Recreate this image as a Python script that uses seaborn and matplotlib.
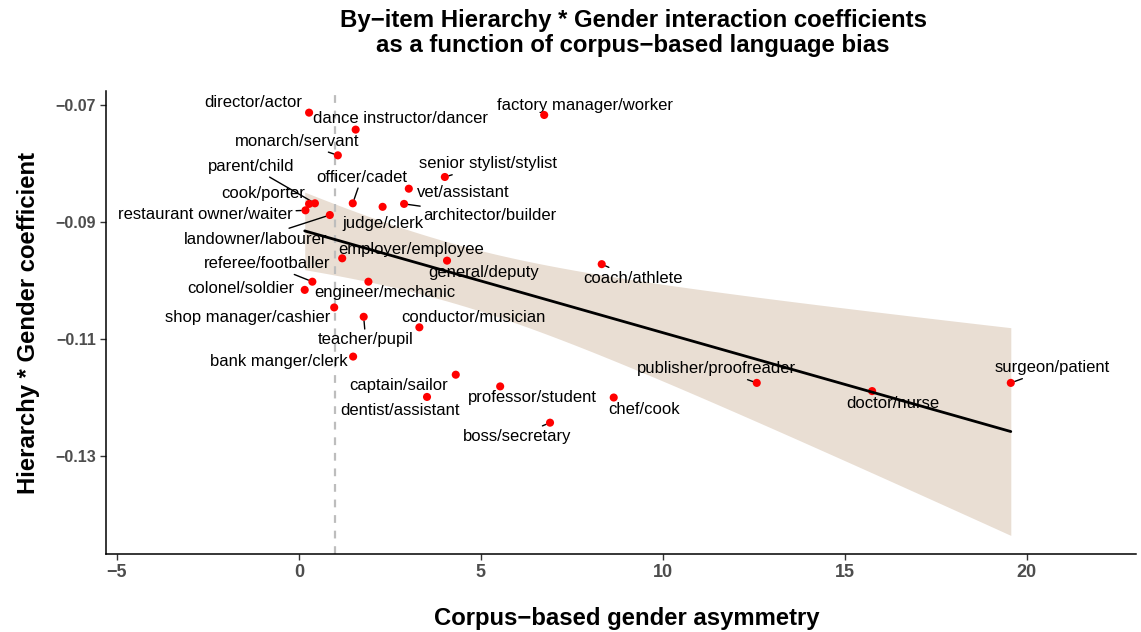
import numpy as np
import pandas as pd
import matplotlib
matplotlib.use("Agg")
import matplotlib.pyplot as plt
import seaborn as sns

# ---------------- data ----------------
pairs = [
    "director/actor", "dance instructor/dancer", "monarch/servant", "parent/child",
    "cook/porter", "restaurant owner/waiter", "landowner/labourer", "officer/cadet",
    "judge/clerk", "vet/assistant", "architector/builder", "senior stylist/stylist",
    "factory manager/worker", "employer/employee", "general/deputy", "referee/footballer",
    "engineer/mechanic", "colonel/soldier", "shop manager/cashier", "teacher/pupil",
    "conductor/musician", "bank manger/clerk", "captain/sailor", "professor/student",
    "dentist/assistant", "boss/secretary", "chef/cook", "publisher/proofreader",
    "doctor/nurse", "surgeon/patient", "coach/athlete",
]
asymmetry = [
    0.28, 1.56, 1.07, 0.44,
    0.28, 0.18, 0.85, 1.48,
    2.30, 3.02, 2.89, 4.01,
    6.74, 1.19, 4.07, 0.37,
    1.91, 0.16, 0.97, 1.78,
    3.31, 1.49, 4.31, 5.53,
    3.52, 6.90, 8.65, 12.58,
    15.75, 19.56, 8.32,
]
coefficient = [
    -0.0713, -0.0742, -0.0786, -0.0868,
    -0.0869, -0.0880, -0.0888, -0.0868,
    -0.0874, -0.0843, -0.0869, -0.0823,
    -0.0717, -0.0962, -0.0966, -0.1002,
    -0.1002, -0.1016, -0.1046, -0.1062,
    -0.1080, -0.1130, -0.1161, -0.1181,
    -0.1199, -0.1243, -0.1200, -0.1175,
    -0.1189, -0.1175, -0.0972,
]
x_ticks = [-5, 0, 5, 10, 15, 20]
x_tick_labels = ["\u22125", "0", "5", "10", "15", "20"]
y_ticks = [-0.07, -0.09, -0.11, -0.13]
y_tick_labels = ["\u22120.07", "\u22120.09", "\u22120.11", "\u22120.13"]

# label placement (pixel offsets from the point: dx right, dy down) and connector flag
label_offsets = [
    (-56, -10, 0), (45, -11, 0), (-41, -14, 1), (-64, -37, 1),
    (-46, -10, 0), (-100, 4, 1), (-74, 24, 1), (9, -26, 1),
    (0, 17, 0), (54, 4, 0), (86, 12, 1), (43, -13, 1),
    (41, -9, 0), (69, -9, 0), (37, 12, 0), (-45, -18, 1),
    (16, 11, 0), (-64, -1, 0), (-87, 10, 0), (2, 23, 1),
    (54, -10, 0), (-74, 5, 0), (-57, 11, 0), (32, 11, 0),
    (-27, 14, 0), (-33, 14, 1), (30, 12, 0), (-40, -14, 1),
    (21, 12, 0), (41, -15, 1), (31, 14, 1),
]

df = pd.DataFrame({"pair": pairs, "asym": asymmetry, "coef": coefficient})

# ---------------- style ----------------
sns.set_theme(style="white")
plt.rcParams["font.family"] = ["Liberation Sans", "DejaVu Sans"]
plt.rcParams["text.color"] = "black"

W, H = 1141, 632
fig = plt.figure(figsize=(W / 100, H / 100), dpi=100)
ax = fig.add_axes([106 / W, 1 - 554 / H, (1136 - 106) / W, (554 - 91) / H])

# analytic 95% confidence band of the linear fit (as in lm smoothing)
xa = np.asarray(asymmetry)
ya = np.asarray(coefficient)
n = len(xa)
slope, intercept = np.polyfit(xa, ya, 1)
resid = ya - (intercept + slope * xa)
s_err = np.sqrt(np.sum(resid ** 2) / (n - 2))
t_crit = 2.045  # t(0.975, df = 29)
grid = np.linspace(xa.min(), xa.max(), 80)
se_fit = s_err * np.sqrt(1 / n + (grid - xa.mean()) ** 2 / np.sum((xa - xa.mean()) ** 2))
fit = intercept + slope * grid
ax.fill_between(grid, fit - t_crit * se_fit, fit + t_crit * se_fit,
                color="#E9DED3", linewidth=0, zorder=1)

# regression line
sns.regplot(data=df, x="asym", y="coef", ax=ax, scatter=False, ci=None,
            color="black", line_kws=dict(lw=2.0, zorder=6))

ax.axvline(1, color="#BDBDBD", lw=1.6, dashes=(3.5, 3.5), zorder=2)

sns.scatterplot(data=df, x="asym", y="coef", ax=ax, color="red", s=34,
                edgecolor="none", linewidth=0, zorder=5, legend=False)

for name, xv, yv, (dx, dy, seg) in zip(pairs, asymmetry, coefficient, label_offsets):
    kw = {}
    if seg:
        kw["arrowprops"] = dict(arrowstyle="-", color="black", lw=1.0,
                                shrinkA=0, shrinkB=3)
    ax.annotate(name, xy=(xv, yv), xytext=(dx, -dy), textcoords="offset pixels",
                ha="center", va="center", fontsize=12, color="black", zorder=4, **kw)

ax.set_xlim(-5.30, 23.0)
ax.set_ylim(-0.14675, -0.0676)
ax.set_xticks(x_ticks)
ax.set_xticklabels(x_tick_labels, fontsize=13, fontweight="bold", color="#4D4D4D")
ax.set_yticks(y_ticks)
ax.set_yticklabels(y_tick_labels, fontsize=11.5, fontweight="bold", color="#4D4D4D")
ax.tick_params(axis="both", which="major", direction="out", length=4, width=1,
               color="#333333", pad=3, bottom=True, left=True)
for side in ["top", "right"]:
    ax.spines[side].set_visible(False)
for side in ["left", "bottom"]:
    ax.spines[side].set_color("black")
    ax.spines[side].set_linewidth(1.1)
ax.set_xlabel("")
ax.set_ylabel("")
ax.grid(False)

fig.text(633 / W, 1 - 33 / H,
         "By\u2212item Hierarchy * Gender interaction coefficients\nas a function of corpus\u2212based language bias",
         ha="center", va="center", fontsize=17.3, fontweight="bold", linespacing=1.1,
         color="black")
fig.text(627 / W, 1 - 625 / H, "Corpus\u2212based gender asymmetry",
         ha="center", va="baseline", fontsize=17.2, fontweight="bold", color="black")
fig.text(29 / W, 1 - 323 / H, "Hierarchy * Gender coefficient",
         ha="center", va="center", rotation=90, fontsize=17.2, fontweight="bold",
         color="black")

fig.savefig("out.png", dpi=100)
